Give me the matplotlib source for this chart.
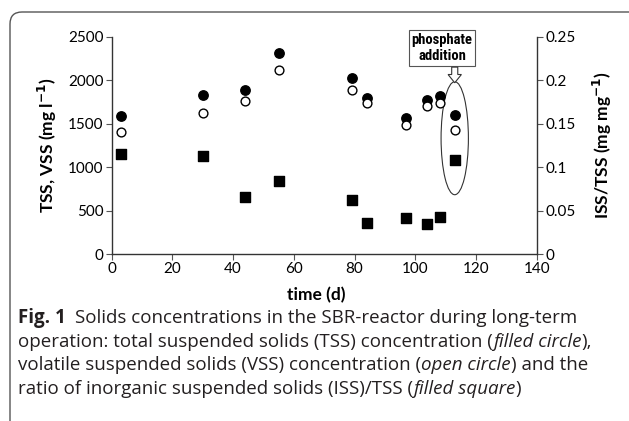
import matplotlib
matplotlib.use("Agg")
import matplotlib.pyplot as plt
from matplotlib import font_manager
from matplotlib.patches import Ellipse, FancyArrow, FancyBboxPatch
from matplotlib.transforms import IdentityTransform

# ---- data ----
time_d = [3, 30, 44, 55, 79, 84, 97, 104, 108, 113]
tss = [1585, 1825, 1890, 2310, 2025, 1800, 1562, 1768, 1820, 1602]
vss = [1398, 1618, 1765, 2112, 1890, 1732, 1487, 1698, 1736, 1428]
iss_tss = [0.115, 0.113, 0.066, 0.084, 0.062, 0.036, 0.041, 0.034, 0.043, 0.108]
x_ticks = [0, 20, 40, 60, 80, 100, 120, 140]
y_ticks = [0, 500, 1000, 1500, 2000, 2500]
y2_ticks = [0, 0.05, 0.1, 0.15, 0.2, 0.25]
y2_ticklabels = ["0", "0.05", "0.1", "0.15", "0.2", "0.25"]

W, H = 629, 421
fig = plt.figure(figsize=(W / 100, H / 100), dpi=100)

# outer rounded frame (pixel coordinates, origin bottom-left)
frame = FancyBboxPatch((10, -20), W + 20, H - 12 + 20,
                       boxstyle="round,pad=0,rounding_size=12",
                       transform=IdentityTransform(), fc="none", ec="#555555",
                       lw=1.0, clip_on=False)
fig.patches.append(frame)

tick_font = "Lato"
ax = fig.add_axes([111.7 / W, 1 - 254 / H, 425 / W, (254 - 36.7) / H])
ax2 = ax.twinx()

ax.scatter(time_d, tss, s=46, marker="o", facecolor="black", edgecolor="black", zorder=3)
ax.scatter(time_d, vss, s=40, marker="o", facecolor="white", edgecolor="black", linewidths=1.0, zorder=3)
ax2.scatter(time_d, iss_tss, s=54, marker="s", facecolor="black", edgecolor="black", zorder=3)

ax.set_xlim(0, 140)
ax.set_ylim(0, 2500)
ax2.set_ylim(0, 0.25)
ax.set_xticks(x_ticks)
ax.set_yticks(y_ticks)
ax2.set_yticks(y2_ticks)
ax2.set_yticklabels(y2_ticklabels)

for a in (ax, ax2):
    a.spines["top"].set_visible(False)
    for s in a.spines.values():
        s.set_linewidth(1.0)
        s.set_color("#333333")
    a.tick_params(length=4, width=0.8, color="#555555", labelsize=11, pad=2)
    for lab in a.get_xticklabels() + a.get_yticklabels():
        lab.set_fontfamily(tick_font)
ax2.spines["left"].set_visible(False)
ax2.spines["bottom"].set_visible(False)
ax.spines["right"].set_visible(False)

ax.set_ylabel("TSS, VSS (mg l$^{\\mathbf{-1}}$)", fontfamily=tick_font, fontweight="bold", fontsize=12.5)
ax2.set_ylabel("ISS/TSS (mg mg$^{\\mathbf{-1}}$)", fontfamily=tick_font, fontweight="bold", fontsize=12.5)
ax.set_xlabel("time (d)", fontfamily=tick_font, fontweight="bold", fontsize=12.5)
ax.yaxis.set_label_coords((47 - 111.7) / 425, 0.5)
ax2.yaxis.set_label_coords((602 - 111.7) / 425, 0.5)
ax.xaxis.set_label_coords((316 - 111.7) / 425, -(295 - 254) / (254 - 36.7))
ax.xaxis.label.set_va("center")
ax.yaxis.label.set_va("center")
ax2.yaxis.label.set_va("center")

# annotation: ellipse, arrow, text box
ax.add_patch(Ellipse((113, 1332), width=9.0, height=1300, fc="none", ec="#333333", lw=0.8, zorder=2))
ax.add_patch(FancyArrow(113, 2150, 0, -180, width=2.0, head_width=4.4, head_length=95,
                        length_includes_head=True, fc="white", ec="#333333", lw=0.8, clip_on=False, zorder=4))

available = {f.name for f in font_manager.fontManager.ttflist}
narrow = None
for cand in ["Liberation Sans Narrow", "Roboto Condensed", "Open Sans Condensed",
             "Noto Sans Condensed", "DejaVu Sans Condensed"]:
    if cand in available:
        narrow = cand
        break
if narrow is not None:
    note_kw = dict(fontfamily=narrow, fontsize=10.5)
else:
    note_kw = dict(fontfamily="Liberation Sans", fontsize=9.5)
ax.text(108.8, 2370, "phosphate\naddition", ha="center", va="center",
        fontweight="bold", linespacing=1.15, clip_on=False,
        bbox=dict(boxstyle="square,pad=0.2", fc="white", ec="#555555", lw=0.8), **note_kw)

# caption
cap_font = "Open Sans"
cap_size = 13.5
renderer = fig.canvas.get_renderer()


def draw_line(x_px, y_px, segments):
    x = x_px
    for txt, kw in segments:
        t = fig.text(x / W, 1 - y_px / H, txt, fontfamily=cap_font, fontsize=cap_size,
                     color="#231f20", va="center", ha="left", **kw)
        bb = t.get_window_extent(renderer)
        x += bb.width


draw_line(18, 318, [("Fig. 1", dict(fontweight="bold"))])
draw_line(75, 318, [("Solids concentrations in the SBR-reactor during long-term", {})])
draw_line(18, 342, [("operation: total suspended solids (TSS) concentration (", {}),
                    ("filled circle", dict(style="italic")), ("),", {})])
draw_line(18, 365, [("volatile suspended solids (VSS) concentration (", {}),
                    ("open circle", dict(style="italic")), (") and the", {})])
draw_line(18, 389, [("ratio of inorganic suspended solids (ISS)/TSS (", {}),
                    ("filled square", dict(style="italic")), (")", {})])

fig.savefig("out.png", dpi=100)
